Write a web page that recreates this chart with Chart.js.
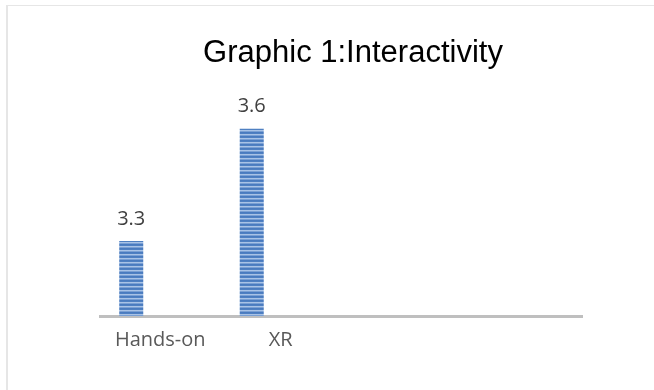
<!DOCTYPE html>
<html>
<head>
<meta charset="utf-8">
<script src="https://cdn.jsdelivr.net/npm/chart.js@4/dist/chart.umd.min.js"></script>
<style>
  html, body { margin:0; padding:0; background:#fff; overflow:hidden; }
  #frame { position:absolute; left:6px; top:5px; width:700px; height:450px; border-left:2px solid #e6e6e6; border-top:1px solid #e6e6e6; }
  #wrap { position:absolute; left:0; top:0; width:654px; height:390px; }
</style>
</head>
<body>
<div id="frame"></div>
<div id="wrap"><canvas id="chart" width="654" height="390"></canvas></div>
<script>
// ---- DATA ----
const categories = ['Hands-on', 'XR', '', ''];
const interactivity = [3.3, 3.6, null, null];
const emptySeries = [null, null, null, null];   // second (empty) series, keeps the bars off-centre like the original
const yMin = 3.1, yMax = 3.7;

// ---- STRIPE FILL ----
function stripes(ctx) {
  const c = document.createElement('canvas');
  c.width = 4; c.height = 4;
  const g = c.getContext('2d');
  ['#4a7bbf', '#4f80c2', '#a9c3e6', '#7aa0d4'].forEach((col, i) => {
    g.fillStyle = col; g.fillRect(0, i, 4, 1);
  });
  return ctx.createPattern(c, 'repeat');
}

// value labels above the bars
const valueLabels = {
  id: 'valueLabels',
  afterDatasetsDraw(chart) {
    const ctx = chart.ctx;
    const meta = chart.getDatasetMeta(0);
    ctx.save();
    ctx.font = '20px "Open Sans"';
    ctx.fillStyle = '#404040';
    ctx.textAlign = 'center';
    ctx.textBaseline = 'middle';
    meta.data.forEach((bar, i) => {
      const v = interactivity[i];
      if (v == null) return;
      ctx.fillText(v.toFixed(1), bar.x, bar.y - 22);
    });
    ctx.restore();
  }
};

const canvas = document.getElementById('chart');
const ctx = canvas.getContext('2d');

new Chart(canvas, {
  type: 'bar',
  data: {
    labels: categories,
    datasets: [
      { label: 'Interactivity', data: interactivity, backgroundColor: stripes(ctx), borderWidth: 0 },
      { label: '', data: emptySeries, backgroundColor: 'rgba(0,0,0,0)', borderWidth: 0 }
    ]
  },
  options: {
    responsive: false,
    animation: false,
    categoryPercentage: 0.963,
    barPercentage: 0.414,
    layout: { padding: { left: 100, right: 48, top: 35, bottom: 0 } },
    plugins: {
      legend: { display: false },
      tooltip: { enabled: false },
      title: {
        display: true,
        text: 'Graphic 1:Interactivity',
        color: '#000',
        font: { family: 'Liberation Sans', size: 31, weight: 'normal' },
        padding: { top: 0, bottom: 19 }
      }
    },
    scales: {
      x: {
        grid: { display: false, drawTicks: false },
        border: { color: '#bfbfbf', width: 3 },
        ticks: { color: '#595959', font: { family: 'Open Sans', size: 20 }, padding: 12, maxRotation: 0, autoSkip: false },
        afterFit: s => { s.height = 74; }
      },
      y: {
        position: 'right',
        min: yMin, max: yMax,
        grid: { display: false },
        border: { display: false },
        ticks: { display: false },
        afterFit: s => { s.width = 24; }
      }
    }
  },
  plugins: [valueLabels]
});
</script>
</body>
</html>
